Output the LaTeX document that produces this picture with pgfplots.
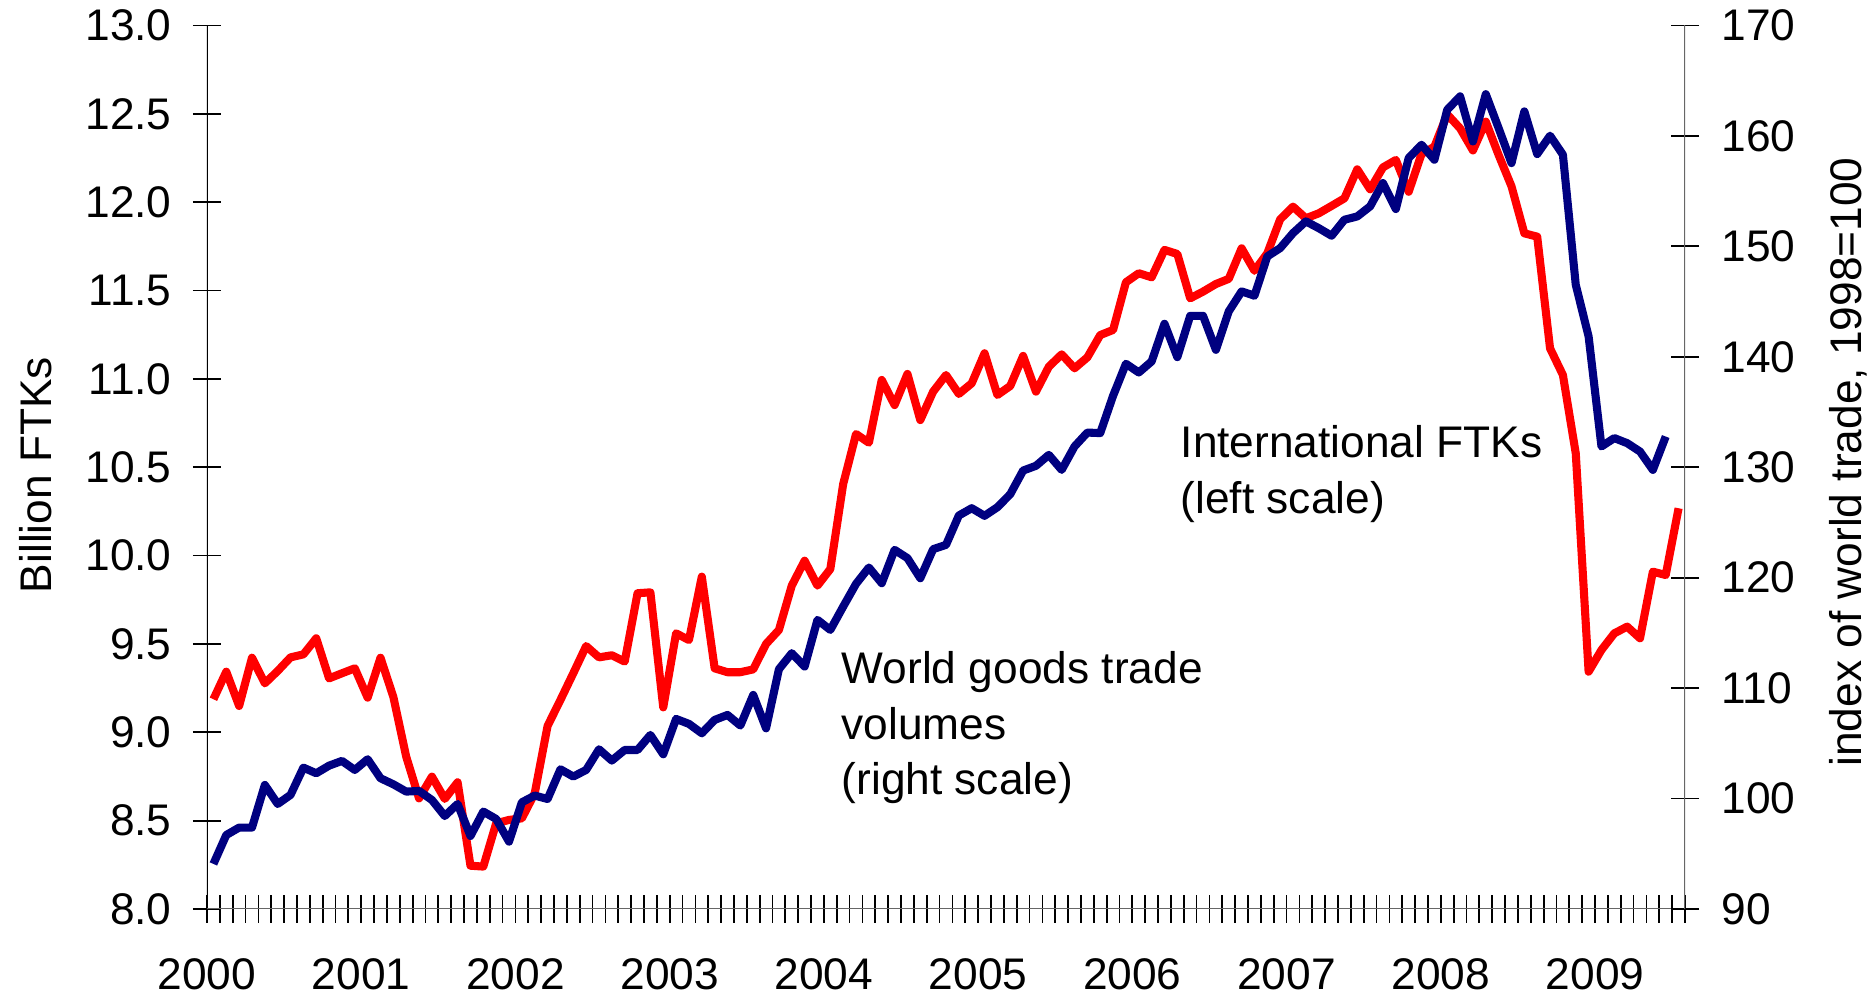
\documentclass[border=0pt]{standalone}
\usepackage{fontspec}
\setmainfont{Liberation Sans}
\usepackage{pgfplots}
\usepackage{pgfplotstable}
\pgfplotsset{compat=1.18}

% month index, Jan 2000 = 0; international FTKs, billion (left scale)
\pgfplotstableread{
m ftk
0 9.187
1 9.343
2 9.149
3 9.422
4 9.277
5 9.347
6 9.424
7 9.441
8 9.532
9 9.305
10 9.334
11 9.362
12 9.196
13 9.422
14 9.200
15 8.862
16 8.626
17 8.749
18 8.623
19 8.717
20 8.245
21 8.240
22 8.485
23 8.504
24 8.513
25 8.655
26 9.036
27 9.183
28 9.334
29 9.488
30 9.424
31 9.436
32 9.400
33 9.787
34 9.792
35 9.141
36 9.560
37 9.522
38 9.881
39 9.362
40 9.340
41 9.340
42 9.356
43 9.500
44 9.579
45 9.830
46 9.971
47 9.830
48 9.924
49 10.405
50 10.688
51 10.639
52 10.994
53 10.852
54 11.028
55 10.767
56 10.928
57 11.022
58 10.915
59 10.975
60 11.145
61 10.909
62 10.960
63 11.130
64 10.928
65 11.069
66 11.139
67 11.060
68 11.122
69 11.248
70 11.277
71 11.547
72 11.598
73 11.575
74 11.730
75 11.707
76 11.456
77 11.494
78 11.537
79 11.566
80 11.739
81 11.612
82 11.711
83 11.903
84 11.975
85 11.909
86 11.937
87 11.979
88 12.022
89 12.186
90 12.073
91 12.197
92 12.239
93 12.059
94 12.273
95 12.314
96 12.497
97 12.418
98 12.293
99 12.456
100 12.267
101 12.090
102 11.824
103 11.805
104 11.173
105 11.022
106 10.579
107 9.343
108 9.466
109 9.560
110 9.598
111 9.532
112 9.909
113 9.890
114 10.268
}\ftk

% world goods trade volumes, 1998=100 (right scale)
\pgfplotstableread{
m trade
0 94.08
1 96.70
2 97.37
3 97.37
4 101.23
5 99.51
6 100.33
7 102.80
8 102.29
9 102.98
10 103.41
11 102.59
12 103.56
13 101.84
14 101.29
15 100.63
16 100.69
17 99.87
18 98.42
19 99.51
20 96.61
21 98.82
22 98.15
23 96.10
24 99.66
25 100.27
26 99.96
27 102.65
28 101.99
29 102.59
30 104.46
31 103.44
32 104.40
33 104.40
34 105.76
35 104.01
36 107.21
37 106.76
38 105.91
39 107.12
40 107.57
41 106.61
42 109.38
43 106.36
44 111.71
45 113.16
46 111.95
47 116.18
48 115.27
49 117.38
50 119.44
51 120.92
52 119.50
53 122.52
54 121.77
55 119.95
56 122.58
57 122.97
58 125.63
59 126.29
60 125.60
61 126.38
62 127.56
63 129.70
64 130.13
65 131.12
66 129.76
67 131.88
68 133.14
69 133.09
70 136.47
71 139.37
72 138.58
73 139.58
74 142.99
75 139.97
76 143.71
77 143.71
78 140.63
79 144.11
80 145.92
81 145.53
82 149.09
83 149.84
84 151.20
85 152.26
86 151.65
87 150.96
88 152.41
89 152.71
90 153.62
91 155.73
92 153.38
93 158.00
94 159.20
95 157.84
96 162.37
97 163.58
98 159.50
99 163.78
100 160.70
101 157.54
102 162.22
103 158.36
104 160.02
105 158.30
106 146.52
107 141.84
108 131.88
109 132.64
110 132.18
111 131.42
112 129.76
113 132.78
}\trade

\definecolor{ftkred}{RGB}{255,0,0}
\definecolor{tradeblue}{RGB}{0,0,128}
\newcommand{\chartfont}{\fontsize{12.6}{15.8}\selectfont}

\pgfplotsset{
  base/.style={
    scale only axis, width=14.78cm, height=8.835cm,
    xmin=0, xmax=115,
    axis line style={draw=none},
    tick align=center, major tick length=0.28cm, minor tick length=0.28cm,
    tick style={black, line width=0.5pt},
    ticklabel style={font=\chartfont},
    /pgf/number format/assume math mode=true,
  }
}

\begin{document}
\begin{tikzpicture}

\begin{axis}[base,
  ymin=8, ymax=13, ytick={8,8.5,9,9.5,10,10.5,11,11.5,12,12.5,13}, ytick pos=left,
  yticklabel style={xshift=-0.09cm, /pgf/number format/fixed, /pgf/number format/fixed zerofill, /pgf/number format/precision=1},
  xtick={0,12,24,36,48,60,72,84,96,108},
  xticklabels={2000,2001,2002,2003,2004,2005,2006,2007,2008,2009},
  xticklabel style={yshift=-0.23cm},
  minor xtick={0,1,...,115}, xtick pos=bottom]
\addplot[ftkred, line width=2.3pt, line join=round] table[x expr=\thisrow{m}+0.5, y=ftk] {\ftk};
\draw[black, line width=0.5pt] (rel axis cs:0,0) -- (rel axis cs:0,1);
\draw[black!60, line width=0.5pt] (rel axis cs:0,0) -- (rel axis cs:1,0);
\coordinate (O) at (rel axis cs:0,0);
\end{axis}

\begin{axis}[base,
  ymin=90, ymax=170, ytick={90,100,110,120,130,140,150,160,170}, ytick pos=right,
  yticklabel style={xshift=0.1cm, /pgf/number format/fixed, /pgf/number format/precision=0},
  hide x axis]
\addplot[tradeblue, line width=2.3pt, line join=round] table[x expr=\thisrow{m}+0.5, y=trade] {\trade};
\draw[black!60, line width=0.5pt] (rel axis cs:1,0) -- (rel axis cs:1,1);
\end{axis}

\pgfresetboundingbox
\begin{scope}[shift={(O)}, xshift=-2.07cm, yshift=-0.90cm]
\path[use as bounding box] (0,0) rectangle (18.75,9.99);
\node[rotate=90, font=\chartfont] at (0.36,5.24) {Billion FTKs};
\node[rotate=90, font=\chartfont] at (18.48,5.37) {index of world trade, 1998=100};
\node[anchor=north west, inner sep=0, align=left, font=\chartfont] at (11.80,5.74) {International FTKs\\(left scale)};
\node[anchor=north west, inner sep=0, align=left, font=\chartfont] at (8.41,3.48) {World goods trade\\volumes\\(right scale)};
\end{scope}
\end{tikzpicture}
\end{document}
